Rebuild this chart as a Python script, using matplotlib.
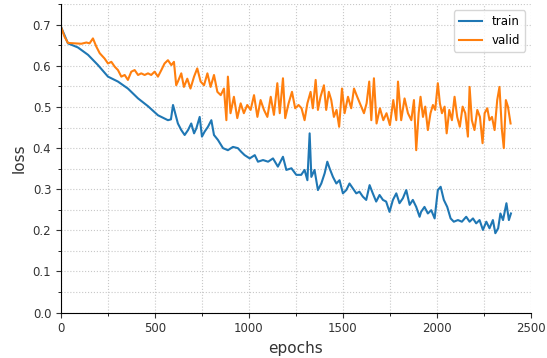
import numpy as np
import matplotlib
matplotlib.use('Agg')
import matplotlib.pyplot as plt
from matplotlib.ticker import MultipleLocator

# values
train_epochs = [0, 37, 90, 144, 197, 250, 303, 356, 410, 463, 516, 569, 585, 596, 622, 640, 658, 676, 693, 708,
                720, 738, 750, 764, 782, 800, 814, 835, 862, 888, 915, 941, 959, 977, 1004, 1031, 1048, 1075, 1102, 1128,
                1154, 1181, 1199, 1226, 1252, 1278, 1296, 1311, 1323, 1332, 1349, 1367, 1385, 1403, 1417, 1429, 1447, 1465, 1482, 1500,
                1518, 1535, 1553, 1571, 1588, 1606, 1624, 1642, 1659, 1677, 1695, 1713, 1730, 1748, 1766, 1784, 1801, 1819, 1837, 1855,
                1872, 1890, 1908, 1916, 1934, 1952, 1970, 1988, 2005, 2020, 2037, 2055, 2073, 2090, 2112, 2133, 2156, 2174, 2192, 2209,
                2227, 2245, 2263, 2280, 2298, 2311, 2326, 2338, 2352, 2370, 2383, 2394]
train_loss = [0.695, 0.655, 0.645, 0.627, 0.602, 0.574, 0.562, 0.545, 0.521, 0.502, 0.480, 0.468, 0.470, 0.505, 0.460, 0.444, 0.432, 0.444, 0.460, 0.436,
              0.448, 0.476, 0.428, 0.440, 0.452, 0.468, 0.432, 0.420, 0.400, 0.395, 0.403, 0.400, 0.391, 0.383, 0.375, 0.383, 0.367, 0.371, 0.367, 0.375,
              0.355, 0.379, 0.347, 0.351, 0.335, 0.335, 0.347, 0.322, 0.436, 0.330, 0.347, 0.298, 0.314, 0.339, 0.367, 0.351, 0.330, 0.314, 0.322, 0.290,
              0.298, 0.314, 0.302, 0.290, 0.294, 0.282, 0.274, 0.310, 0.290, 0.270, 0.286, 0.274, 0.270, 0.245, 0.274, 0.290, 0.266, 0.278, 0.298, 0.262,
              0.274, 0.257, 0.233, 0.245, 0.257, 0.241, 0.249, 0.229, 0.298, 0.306, 0.274, 0.257, 0.229, 0.221, 0.225, 0.221, 0.233, 0.221, 0.229, 0.217,
              0.225, 0.201, 0.221, 0.205, 0.225, 0.193, 0.205, 0.241, 0.225, 0.266, 0.225, 0.241]

valid_epochs = [0, 19, 37, 73, 108, 135, 152, 170, 188, 206, 232, 250, 268, 286, 303, 321, 339, 356, 374, 392,
                410, 427, 445, 463, 480, 498, 516, 534, 551, 569, 587, 601, 613, 622, 640, 654, 672, 689, 708, 725,
                743, 761, 779, 796, 814, 832, 850, 867, 880, 888, 902, 920, 938, 956, 973, 991, 1009, 1027, 1045, 1062,
                1080, 1098, 1116, 1133, 1151, 1164, 1181, 1193, 1211, 1229, 1246, 1264, 1280, 1296, 1311, 1328, 1340, 1355, 1367, 1381,
                1399, 1411, 1425, 1438, 1452, 1466, 1480, 1495, 1509, 1527, 1544, 1559, 1576, 1594, 1612, 1626, 1640, 1651, 1665, 1679,
                1697, 1715, 1732, 1750, 1768, 1784, 1793, 1810, 1828, 1846, 1864, 1878, 1890, 1903, 1913, 1926, 1938, 1952, 1966, 1979,
                1991, 2005, 2016, 2027, 2041, 2052, 2066, 2080, 2094, 2108, 2122, 2137, 2151, 2165, 2174, 2186, 2200, 2215, 2229, 2243,
                2254, 2268, 2280, 2293, 2307, 2321, 2333, 2346, 2356, 2367, 2378, 2392]
valid_loss = [0.695, 0.671, 0.656, 0.655, 0.654, 0.657, 0.655, 0.667, 0.647, 0.631, 0.618, 0.606, 0.610, 0.598, 0.590, 0.574, 0.578, 0.566, 0.586, 0.590,
              0.578, 0.582, 0.578, 0.582, 0.578, 0.586, 0.574, 0.590, 0.606, 0.614, 0.602, 0.610, 0.553, 0.562, 0.582, 0.549, 0.569, 0.545, 0.574, 0.594,
              0.562, 0.553, 0.582, 0.549, 0.578, 0.537, 0.529, 0.545, 0.468, 0.574, 0.485, 0.525, 0.473, 0.509, 0.485, 0.505, 0.493, 0.529, 0.476, 0.517,
              0.493, 0.476, 0.525, 0.481, 0.558, 0.485, 0.570, 0.473, 0.509, 0.537, 0.497, 0.505, 0.497, 0.468, 0.509, 0.537, 0.497, 0.566, 0.493, 0.525,
              0.553, 0.493, 0.537, 0.517, 0.476, 0.493, 0.452, 0.545, 0.485, 0.525, 0.497, 0.545, 0.525, 0.505, 0.485, 0.509, 0.562, 0.468, 0.570, 0.460,
              0.497, 0.468, 0.485, 0.456, 0.517, 0.468, 0.562, 0.468, 0.521, 0.485, 0.468, 0.517, 0.395, 0.485, 0.525, 0.476, 0.501, 0.444, 0.485, 0.505,
              0.493, 0.558, 0.509, 0.485, 0.501, 0.436, 0.493, 0.468, 0.525, 0.476, 0.452, 0.501, 0.485, 0.428, 0.549, 0.468, 0.444, 0.493, 0.476, 0.412,
              0.485, 0.497, 0.468, 0.476, 0.444, 0.517, 0.549, 0.444, 0.400, 0.517, 0.501, 0.460]

fig = plt.figure(figsize=(5.47, 3.58), dpi=100)
ax = fig.add_axes([0.1115, 0.127, 0.859, 0.861])

ax.plot(train_epochs, train_loss, color='#1f77b4', linewidth=1.5, label='train')
ax.plot(valid_epochs, valid_loss, color='#ff7f0e', linewidth=1.5, label='valid')

ax.set_xlim(0, 2500)
ax.set_ylim(0, 0.75)
ax.xaxis.set_major_locator(MultipleLocator(500))
ax.xaxis.set_minor_locator(MultipleLocator(250))
ax.yaxis.set_major_locator(MultipleLocator(0.1))
ax.yaxis.set_minor_locator(MultipleLocator(0.05))
ax.grid(which='both', linestyle=':', color='#c8c8c8', linewidth=0.8)
ax.set_axisbelow(True)

ax.spines['top'].set_visible(False)
ax.spines['right'].set_visible(False)
ax.tick_params(axis='both', which='major', labelsize=8.5, colors='#333333', labelcolor='#333333')
ax.set_xlabel('epochs', fontsize=11, color='#333333')
ax.set_ylabel('loss', fontsize=11, color='#333333')
ax.legend(loc='upper right', fontsize=8.5)

fig.savefig('out.png', dpi=100)
